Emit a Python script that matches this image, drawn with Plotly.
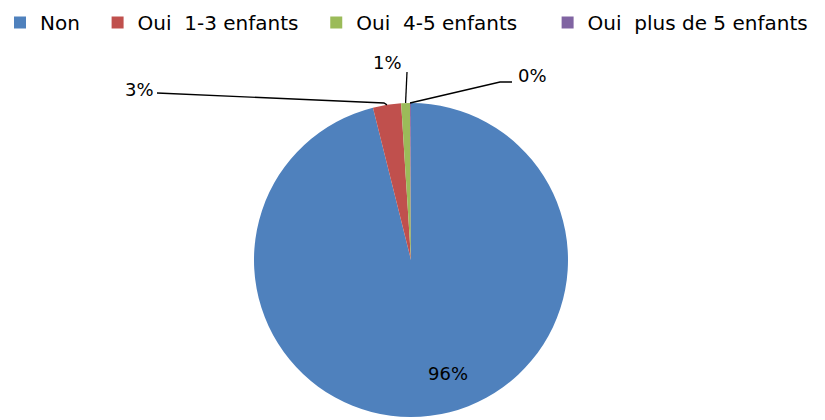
import math
import plotly.graph_objects as go

# ---- data ----
categories = ["Non", "Oui  1-3 enfants", "Oui  4-5 enfants", "Oui  plus de 5 enfants"]
values = [96.2, 2.9, 0.9, 0.1]
colors = ["#4F81BD", "#C0504D", "#9BBB59", "#8064A2"]

# extra legend spacing after each entry (number of non-breaking spaces)
legend_pad = [2, 2, 4, 1]

W, H = 825, 420
CX, CY, R = 411, 260, 157  # pie centre / radius in pixels

total = sum(values)
pct_labels = [f"{round(v / total * 100)}%" for v in values]
legend_names = [c + "\u00a0" * p for c, p in zip(categories, legend_pad)]

# label text centres (pixels) and leader-line start / elbow points
label_pos = [(448, 373), (139, 89), (387, 62), (532, 75)]
leader_pts = [None, [(157, 93), (384, 103)], [(407, 72)], [(512, 82), (500, 82)]]


def px(x):
    return x / W


def py(y):
    return 1 - y / H


fig = go.Figure(
    go.Pie(
        labels=legend_names,
        values=values,
        sort=False,
        direction="clockwise",
        rotation=0,
        marker=dict(colors=colors, line=dict(width=0)),
        textinfo="none",
        hoverinfo="label+percent",
        domain=dict(
            x=[(CX - R) / W, (CX + R) / W],
            y=[1 - (CY + R) / H, 1 - (CY - R) / H],
        ),
    )
)

cum = 0.0
annotations, shapes = [], []
for i, (v, txt, (lx, ly), pts) in enumerate(zip(values, pct_labels, label_pos, leader_pts)):
    start = cum / total * 2 * math.pi
    mid = (cum + v / 2) / total * 2 * math.pi
    cum += v
    annotations.append(dict(
        x=px(lx), y=py(ly), xref="paper", yref="paper",
        text=txt, showarrow=False, xanchor="center", yanchor="middle",
        font=dict(family="DejaVu Sans", size=18, color="#000000"),
    ))
    if pts:
        ang = start if i == len(values) - 1 else mid
        ax_ = CX + R * math.sin(ang)
        ay_ = CY - R * math.cos(ang)
        allp = pts + [(ax_, ay_)]
        path = "M " + " L ".join(f"{px(x):.5f},{py(y):.5f}" for x, y in allp)
        shapes.append(dict(type="path", path=path, xref="paper", yref="paper",
                           line=dict(color="#000000", width=1.3)))

fig.update_layout(
    width=W, height=H,
    margin=dict(l=0, r=0, t=0, b=0),
    paper_bgcolor="white",
    plot_bgcolor="white",
    showlegend=True,
    legend=dict(
        orientation="h", x=0.0, y=1 - 3 / H, xanchor="left", yanchor="top",
        font=dict(family="DejaVu Sans", size=20, color="#000000"),
        itemwidth=30,
    ),
    annotations=annotations,
    shapes=shapes,
)

fig.write_html("out.html")
